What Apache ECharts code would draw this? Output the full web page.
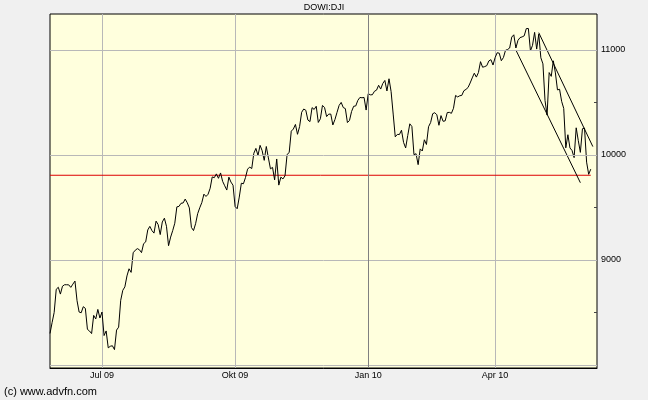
<!DOCTYPE html>
<html><head><meta charset="utf-8">
<script src="https://cdn.jsdelivr.net/npm/echarts@6/dist/echarts.min.js"></script>
<style>html,body{margin:0;padding:0;background:#f0f0f0}#c{width:648px;height:400px}</style>
</head><body><div id="c"></div>
<script>
const chartTitle = 'DOWI:DJI';
const credit = '(c) www.advfn.com';

// trading-day categories (May 27 2009 .. Jun 8 2010)
const dates = [
'2009-05-27','2009-05-28','2009-05-29',
'2009-06-01','2009-06-02','2009-06-03','2009-06-04','2009-06-05','2009-06-08','2009-06-09','2009-06-10','2009-06-11','2009-06-12','2009-06-15','2009-06-16','2009-06-17','2009-06-18','2009-06-19','2009-06-22','2009-06-23','2009-06-24','2009-06-25','2009-06-26','2009-06-29','2009-06-30',
'2009-07-01','2009-07-02','2009-07-06','2009-07-07','2009-07-08','2009-07-09','2009-07-10','2009-07-13','2009-07-14','2009-07-15','2009-07-16','2009-07-17','2009-07-20','2009-07-21','2009-07-22','2009-07-23','2009-07-24','2009-07-27','2009-07-28','2009-07-29','2009-07-30','2009-07-31',
'2009-08-03','2009-08-04','2009-08-05','2009-08-06','2009-08-07','2009-08-10','2009-08-11','2009-08-12','2009-08-13','2009-08-14','2009-08-17','2009-08-18','2009-08-19','2009-08-20','2009-08-21','2009-08-24','2009-08-25','2009-08-26','2009-08-27','2009-08-28','2009-08-31',
'2009-09-01','2009-09-02','2009-09-03','2009-09-04','2009-09-08','2009-09-09','2009-09-10','2009-09-11','2009-09-14','2009-09-15','2009-09-16','2009-09-17','2009-09-18','2009-09-21','2009-09-22','2009-09-23','2009-09-24','2009-09-25','2009-09-28','2009-09-29','2009-09-30',
'2009-10-01','2009-10-02','2009-10-05','2009-10-06','2009-10-07','2009-10-08','2009-10-09','2009-10-12','2009-10-13','2009-10-14','2009-10-15','2009-10-16','2009-10-19','2009-10-20','2009-10-21','2009-10-22','2009-10-23','2009-10-26','2009-10-27','2009-10-28','2009-10-29','2009-10-30',
'2009-11-02','2009-11-03','2009-11-04','2009-11-05','2009-11-06','2009-11-09','2009-11-10','2009-11-11','2009-11-12','2009-11-13','2009-11-16','2009-11-17','2009-11-18','2009-11-19','2009-11-20','2009-11-23','2009-11-24','2009-11-25','2009-11-27','2009-11-30',
'2009-12-01','2009-12-02','2009-12-03','2009-12-04','2009-12-07','2009-12-08','2009-12-09','2009-12-10','2009-12-11','2009-12-14','2009-12-15','2009-12-16','2009-12-17','2009-12-18','2009-12-21','2009-12-22','2009-12-23','2009-12-24','2009-12-28','2009-12-29','2009-12-30','2009-12-31',
'2010-01-04','2010-01-05','2010-01-06','2010-01-07','2010-01-08','2010-01-11','2010-01-12','2010-01-13','2010-01-14','2010-01-15','2010-01-19','2010-01-20','2010-01-21','2010-01-22','2010-01-25','2010-01-26','2010-01-27','2010-01-28','2010-01-29',
'2010-02-01','2010-02-02','2010-02-03','2010-02-04','2010-02-05','2010-02-08','2010-02-09','2010-02-10','2010-02-11','2010-02-12','2010-02-16','2010-02-17','2010-02-18','2010-02-19','2010-02-22','2010-02-23','2010-02-24','2010-02-25','2010-02-26',
'2010-03-01','2010-03-02','2010-03-03','2010-03-04','2010-03-05','2010-03-08','2010-03-09','2010-03-10','2010-03-11','2010-03-12','2010-03-15','2010-03-16','2010-03-17','2010-03-18','2010-03-19','2010-03-22','2010-03-23','2010-03-24','2010-03-25','2010-03-26','2010-03-29','2010-03-30','2010-03-31',
'2010-04-01','2010-04-05','2010-04-06','2010-04-07','2010-04-08','2010-04-09','2010-04-12','2010-04-13','2010-04-14','2010-04-15','2010-04-16','2010-04-19','2010-04-20','2010-04-21','2010-04-22','2010-04-23','2010-04-26','2010-04-27','2010-04-28','2010-04-29','2010-04-30',
'2010-05-03','2010-05-04','2010-05-05','2010-05-06','2010-05-07','2010-05-10','2010-05-11','2010-05-12','2010-05-13','2010-05-14','2010-05-17','2010-05-18','2010-05-19','2010-05-20','2010-05-21','2010-05-24','2010-05-25','2010-05-26','2010-05-27','2010-05-28',
'2010-06-01','2010-06-02','2010-06-03','2010-06-04','2010-06-07','2010-06-08'
];
const padDates = ['2010-06-09','2010-06-10','2010-06-11'];

const closes = [
8300,8403,8500,
8721,8740,8675,8750,8764,8764,8763,8739,8770,8799,8612,8504,8497,8555,8539,8339,8323,8299,8472,8438,8529,8447,
8504,8280,8324,8163,8178,8183,8146,8332,8360,8616,8711,8744,8848,8916,8882,9069,9093,9108,9097,9070,9155,9172,
9286,9320,9280,9256,9370,9337,9242,9362,9398,9321,9136,9218,9280,9350,9506,9510,9540,9543,9580,9545,9496,
9310,9280,9345,9441,9497,9547,9627,9605,9626,9683,9791,9784,9820,9778,9829,9749,9707,9666,9789,9742,9712,
9509,9488,9599,9731,9726,9786,9865,9885,9871,10016,10063,9996,10092,10041,9949,10081,9972,9868,9882,9763,9962,9713,
9789,9772,9802,10005,10023,10227,10247,10291,10197,10270,10407,10438,10426,10333,10318,10451,10434,10464,10310,10345,
10472,10453,10366,10389,10390,10286,10338,10406,10472,10501,10452,10442,10309,10329,10414,10464,10467,10520,10548,10545,10548,10428,
10584,10573,10574,10607,10618,10664,10628,10681,10710,10610,10726,10604,10390,10173,10196,10195,10236,10120,10067,
10185,10297,10271,10003,10012,9908,10058,10038,10145,10100,10269,10309,10393,10403,10383,10283,10375,10321,10325,
10404,10406,10397,10445,10567,10553,10564,10568,10612,10625,10643,10686,10734,10779,10742,10786,10889,10836,10842,10851,10896,10908,10857,
10927,10974,10970,10898,10928,10997,11005,11019,11123,11145,11019,11092,11118,11125,11135,11204,11205,10992,11045,11168,11009,
11151,10926,10868,10520,10380,10785,10749,10897,10782,10620,10626,10511,10444,10068,10193,10067,10043,9975,10259,10137,
10025,10250,10256,9932,9816,9865
];

const tickDates = ['2009-07-01','2009-10-01','2010-01-04','2010-04-01'];
const tickLabels = ['Jul 09','Okt 09','Jan 10','Apr 10'];
const yearStartDate = '2010-01-04';

const yMin = 7971, yMax = 11343;
const yGridValues = [8000, 9000, 10000, 11000];
const yTickValues = [8000, 8500, 9000, 9500, 10000, 10500, 11000];
const yLabelValues = [9000, 10000, 11000];

const supportLevel = 9807;
const supportFrom = '2009-05-27', supportTo = '2010-06-08';
const upperChannel = [['2010-05-03', 11165], ['2010-06-09', 10080]];
const lowerChannel = [['2010-04-16', 11000], ['2010-06-01', 9736]];

const FONT = 'Liberation Sans, Arial, sans-serif';
const categories = dates.concat(padDates);
const isTick = (i, v) => tickDates.indexOf(v) >= 0;

const chart = echarts.init(document.getElementById('c'), null, {renderer: 'canvas'});
chart.setOption({
  animation: false,
  backgroundColor: '#f0f0f0',
  textStyle: {fontFamily: FONT},
  title: [
    {text: chartTitle, left: 'center', top: 3, padding: 0,
     textStyle: {fontSize: 9, fontWeight: 'normal', color: '#000', fontFamily: FONT}},
    {text: credit, left: 4, top: 386, padding: 0,
     textStyle: {fontSize: 11, fontWeight: 'normal', color: '#000', fontFamily: FONT}}
  ],
  grid: {left: 50, right: 51, top: 14, bottom: 32, show: true,
         backgroundColor: '#ffffdd', borderColor: '#000', borderWidth: 1},
  xAxis: {
    type: 'category', data: categories, boundaryGap: false,
    axisLine: {show: true, lineStyle: {color: '#000', width: 1}},
    axisTick: {show: false},
    axisLabel: {interval: isTick, margin: 3, fontSize: 9, color: '#000', fontFamily: FONT,
      formatter: v => { const k = tickDates.indexOf(v); return k >= 0 ? tickLabels[k] : ''; }},
    splitLine: {show: true, interval: isTick, lineStyle: {color: '#b8b8b8', width: 1}}
  },
  yAxis: {
    type: 'value', position: 'right', min: yMin, max: yMax,
    axisLine: {show: false},
    axisTick: {show: true, inside: true, length: 3, customValues: yTickValues, lineStyle: {color: '#444'}},
    axisLabel: {customValues: yLabelValues, margin: 4, fontSize: 9, color: '#000', fontFamily: FONT,
      formatter: v => String(Math.round(v))},
    splitLine: {show: false}
  },
  series: [
    {type: 'line', name: 'support', showSymbol: false, silent: true,
     data: [[supportFrom, supportLevel], [supportTo, supportLevel]],
     lineStyle: {color: '#dd0000', width: 1}, z: 2,
     markLine: {silent: true, symbol: 'none', label: {show: false},
       lineStyle: {color: '#b8b8b8', type: 'solid', width: 1},
       data: yGridValues.map(v => ({yAxis: v}))}},
    {type: 'line', name: 'DJI', showSymbol: false, silent: true,
     data: closes, lineStyle: {color: '#000', width: 1}, z: 3,
     markLine: {silent: true, symbol: 'none', label: {show: false},
       lineStyle: {color: '#808080', type: 'solid', width: 1},
       data: [{xAxis: yearStartDate}]}},
    {type: 'line', name: 'upper', showSymbol: false, silent: true,
     data: upperChannel, lineStyle: {color: '#000', width: 1}, z: 3},
    {type: 'line', name: 'lower', showSymbol: false, silent: true,
     data: lowerChannel, lineStyle: {color: '#000', width: 1}, z: 3}
  ]
});
</script>
</body></html>
